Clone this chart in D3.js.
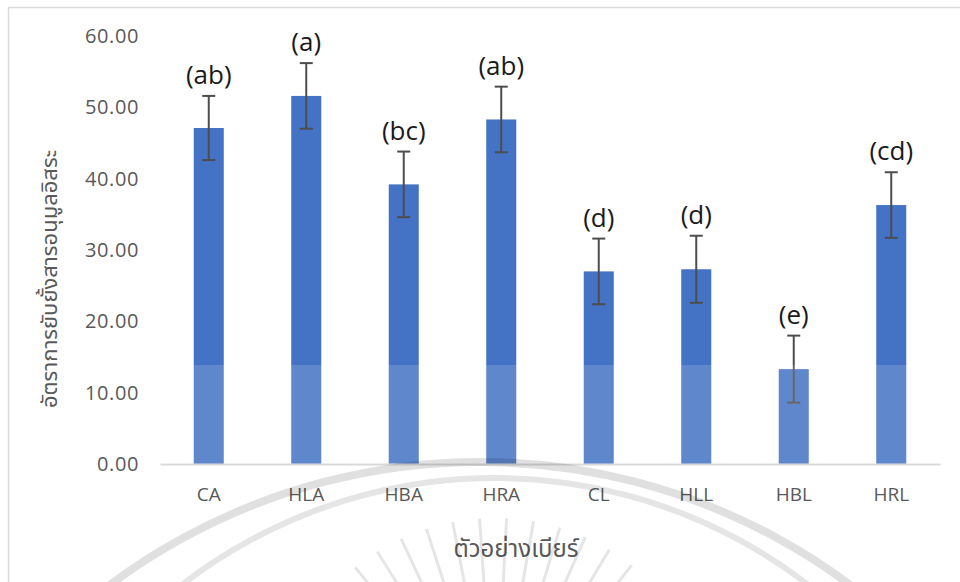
<!DOCTYPE html>
<html>
<head>
<meta charset="utf-8">
<script src="https://cdn.jsdelivr.net/npm/d3@7"></script>
<style>
  html, body { margin: 0; padding: 0; background: #fff; }
  svg { display: block; }
</style>
</head>
<body>
<svg id="chart" width="960" height="582"></svg>
<script>
// Beer samples and their antioxidant (free-radical inhibition) results
const categories = ["CA", "HLA", "HBA", "HRA", "CL", "HLL", "HBL", "HRL"];
const means = [47.1, 51.6, 39.2, 48.3, 27.0, 27.3, 13.3, 36.3];
const errors = [4.5, 4.6, 4.6, 4.6, 4.6, 4.7, 4.7, 4.6];
const groupLetters = ["(ab)", "(a)", "(bc)", "(ab)", "(d)", "(d)", "(e)", "(cd)"];
const yTicks = [0, 10, 20, 30, 40, 50, 60];
const yTitle = "อัตราการยับยั้งสารอนุมูลอิสระ";
const xTitle = "ตัวอย่างเบียร์";

const rows = categories.map((c, i) => ({ cat: c, mean: means[i], err: errors[i], letter: groupLetters[i] }));

const svg = d3.select("#chart");
const plot = { left: 160, right: 940, top: 36, bottom: 464 };

const thaiFont = "'Noto Sans Thai', 'Leelawadee UI', Tahoma, 'Noto Sans', sans-serif";
const latinFont = "'Open Sans', 'Segoe UI', sans-serif";

// chart frame
svg.append("rect")
  .attr("x", 8.5).attr("y", 7.5)
  .attr("width", 1000).attr("height", 1000)
  .attr("fill", "#fff")
  .attr("stroke", "#d9d9d9").attr("stroke-width", 1.5);

const x = d3.scaleBand()
  .domain(categories)
  .range([plot.left, plot.right])
  .paddingInner(0.692)
  .paddingOuter(0.346);

const y = d3.scaleLinear()
  .domain([0, 60])
  .range([plot.bottom, plot.top]);

// y axis: labels only
const yAxis = svg.append("g")
  .attr("transform", `translate(${plot.left - 21},0)`)
  .call(d3.axisLeft(y).tickValues(yTicks).tickSize(0).tickPadding(0).tickFormat(d3.format(".2f")));
yAxis.select(".domain").remove();
yAxis.selectAll("text")
  .attr("fill", "#595959")
  .style("font-family", latinFont)
  .style("font-size", "20px")
  .style("letter-spacing", "0.6px");

// bars
svg.append("g").selectAll("rect")
  .data(rows)
  .join("rect")
  .attr("x", d => x(d.cat))
  .attr("y", d => y(d.mean))
  .attr("width", x.bandwidth())
  .attr("height", d => y(0) - y(d.mean))
  .attr("fill", "#4472c4");

// x axis line and category labels
const xAxis = svg.append("g")
  .attr("transform", `translate(0,${plot.bottom})`)
  .call(d3.axisBottom(x).tickSize(0).tickPadding(24));
xAxis.select(".domain").attr("stroke", "#d9d9d9").attr("stroke-width", 2);
xAxis.selectAll("text")
  .attr("fill", "#595959")
  .style("font-family", latinFont)
  .style("font-size", "19px");

// error bars
const eb = svg.append("g").attr("stroke", "#4d4d4d").attr("stroke-width", 2);
const cap = 6.5;
rows.forEach(d => {
  const cx = x(d.cat) + x.bandwidth() / 2;
  const yHi = y(d.mean + d.err), yLo = y(d.mean - d.err);
  eb.append("line").attr("x1", cx).attr("x2", cx).attr("y1", yHi).attr("y2", yLo);
  eb.append("line").attr("x1", cx - cap).attr("x2", cx + cap).attr("y1", yHi).attr("y2", yHi);
  eb.append("line").attr("x1", cx - cap).attr("x2", cx + cap).attr("y1", yLo).attr("y2", yLo);
});

// significance letters above each error bar
svg.append("g").selectAll("text")
  .data(rows)
  .join("text")
  .attr("x", d => x(d.cat) + x.bandwidth() / 2)
  .attr("y", d => y(d.mean + d.err) - 12)
  .attr("text-anchor", "middle")
  .attr("fill", "#1a1a1a")
  .style("font-family", latinFont)
  .style("font-size", "26px")
  .text(d => d.letter);

// axis titles
svg.append("text")
  .attr("transform", "translate(57,279) rotate(-90)")
  .attr("text-anchor", "middle")
  .attr("fill", "#595959")
  .style("font-family", thaiFont)
  .style("font-size", "22px")
  .text(yTitle);

svg.append("text")
  .attr("x", 516).attr("y", 557)
  .attr("text-anchor", "middle")
  .attr("fill", "#595959")
  .style("font-family", thaiFont)
  .style("font-size", "24px")
  .text(xTitle);

// faded watermark emblem over the lower part of the page
const wm = svg.append("g").attr("pointer-events", "none");
wm.append("rect")
  .attr("x", plot.left).attr("y", 365)
  .attr("width", plot.right - plot.left).attr("height", plot.bottom - 365)
  .attr("fill", "#fff").attr("opacity", 0.15);
const arcPath = (cx, cy, r, a0, a1) => {
  const p = d3.path();
  p.arc(cx, cy, r, a0, a1);
  return p.toString();
};
wm.append("path")
  .attr("d", arcPath(480, 1080, 618, Math.PI * 1.2, Math.PI * 1.8))
  .attr("fill", "none").attr("stroke", "#000").attr("stroke-opacity", 0.12).attr("stroke-width", 8);
wm.append("path")
  .attr("d", arcPath(495, 990, 512, Math.PI * 1.2, Math.PI * 1.8))
  .attr("fill", "none").attr("stroke", "#000").attr("stroke-opacity", 0.1).attr("stroke-width", 6);
const rayAngles = d3.range(-150, -29, 7);
wm.selectAll("line.ray")
  .data(rayAngles)
  .join("line")
  .attr("class", "ray")
  .attr("x1", a => 495 + 150 * Math.cos(a * Math.PI / 180))
  .attr("y1", a => 740 + 150 * Math.sin(a * Math.PI / 180))
  .attr("x2", a => 495 + 222 * Math.cos(a * Math.PI / 180))
  .attr("y2", a => 740 + 222 * Math.sin(a * Math.PI / 180))
  .attr("stroke", "#000").attr("stroke-opacity", 0.1).attr("stroke-width", 3);
</script>
</body>
</html>
